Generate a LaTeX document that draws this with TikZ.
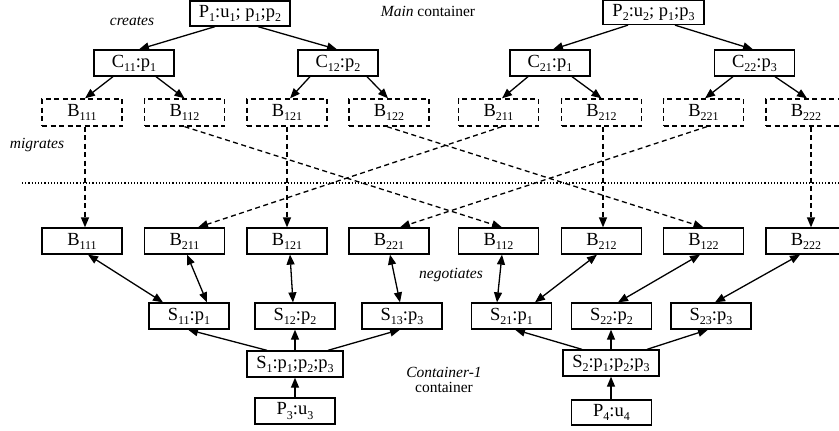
\documentclass[tikz,border=0pt]{standalone}
\usepackage{fontspec}
\setmainfont{Liberation Serif}
\usetikzlibrary{arrows.meta}
\newcommand\sbs[1]{\raisebox{-0.22em}{\fontsize{12}{12}\selectfont #1}}
\begin{document}
\begin{tikzpicture}[x=1pt,y=-1pt,
 box/.style={draw, line width=1.3pt, minimum width=80pt, minimum height=26pt, inner sep=0pt, font=\fontsize{18.5}{19}\selectfont},
 dbox/.style={box, dash pattern=on 5pt off 3.5pt},
 arr/.style={line width=1.3pt, -{Triangle[length=10pt,width=8pt]}},
 darr/.style={arr, dash pattern=on 5pt off 3.5pt},
 barr/.style={line width=1.3pt, {Triangle[length=10pt,width=8pt]}-{Triangle[length=10pt,width=8pt]}},
 lab/.style={font=\fontsize{15.5}{16}\selectfont\itshape, inner sep=0pt},
 plab/.style={font=\fontsize{15.5}{16}\selectfont, inner sep=0pt},
 sep/.style={line width=1.2pt, dash pattern=on 1.2pt off 2pt}]
\useasboundingbox (0,0) rectangle (839,431);
\clip (0,0) rectangle (839,431);

% top processes
\node[box, minimum width=100pt, minimum height=25pt] (P1) at (240,13.5) {P\sbs{1}:u\sbs{1}; p\sbs{1};p\sbs{2}};
\node[box, minimum width=101pt, minimum height=24pt] (P2) at (653.5,12.5) {P\sbs{2}:u\sbs{2}; p\sbs{1};p\sbs{3}};

% C row
\node[box] (C11) at (134,63) {C\sbs{11}:p\sbs{1}};
\node[box] (C12) at (338,63) {C\sbs{12}:p\sbs{2}};
\node[box] (C21) at (550,63) {C\sbs{21}:p\sbs{1}};
\node[box] (C22) at (754.5,63) {C\sbs{22}:p\sbs{3}};

% dashed B row
\node[dbox, minimum height=27pt] (uB111) at (82,112.5) {B\sbs{111}};
\node[dbox, minimum height=27pt] (uB112) at (184.5,112.5) {B\sbs{112}};
\node[dbox, minimum height=27pt] (uB121) at (287,112.5) {B\sbs{121}};
\node[dbox, minimum height=27pt] (uB122) at (389,112.5) {B\sbs{122}};
\node[dbox, minimum height=27pt] (uB211) at (498.5,112.5) {B\sbs{211}};
\node[dbox, minimum height=27pt] (uB212) at (601.5,112.5) {B\sbs{212}};
\node[dbox, minimum height=27pt] (uB221) at (703.5,112.5) {B\sbs{221}};
\node[dbox, minimum height=27pt] (uB222) at (806,112.5) {B\sbs{222}};

% separator
\coordinate (sepL) at (22,183);
\coordinate (sepR) at (845,183);
\draw[sep] (sepL) -- (sepR);

% lower B row
\node[box] (lB111) at (82,241) {B\sbs{111}};
\node[box] (lB211) at (184.5,241) {B\sbs{211}};
\node[box] (lB121) at (287,241) {B\sbs{121}};
\node[box] (lB221) at (389,241) {B\sbs{221}};
\node[box] (lB112) at (498.5,241) {B\sbs{112}};
\node[box] (lB212) at (601.5,241) {B\sbs{212}};
\node[box] (lB122) at (703.5,241) {B\sbs{122}};
\node[box] (lB222) at (806,241) {B\sbs{222}};

% S row
\node[box] (S11) at (189,316) {S\sbs{11}:p\sbs{1}};
\node[box] (S12) at (295,316) {S\sbs{12}:p\sbs{2}};
\node[box] (S13) at (402,316) {S\sbs{13}:p\sbs{3}};
\node[box] (S21) at (511.5,316) {S\sbs{21}:p\sbs{1}};
\node[box] (S22) at (611.5,316) {S\sbs{22}:p\sbs{2}};
\node[box] (S23) at (711,316) {S\sbs{23}:p\sbs{3}};

\node[box, minimum width=96pt] (S1) at (295,364) {S\sbs{1}:p\sbs{1};p\sbs{2};p\sbs{3}};
\node[box, minimum width=96pt] (S2) at (611,363) {S\sbs{2}:p\sbs{1};p\sbs{2};p\sbs{3}};

\node[box] (P3) at (295,411) {P\sbs{3}:u\sbs{3}};
\node[box, minimum height=25pt] (P4) at (611.5,412.5) {P\sbs{4}:u\sbs{4}};

% labels
\node[lab] (lcreates) at (132,21) {creates};
\node[plab] (lmain) at (428,11) {\textit{Main} container};
\node[lab] (lmigr) at (37,145) {migrates};
\node[lab] (lneg) at (451,275) {negotiates};
\node[lab] (lcont1) at (444,372) {Container-1};
\node[plab] (lcont2) at (444,387) {container};

% creates arrows
\draw[arr] ([xshift=-25pt]P1.south) -- ([xshift=5pt]C11.north);
\draw[arr] ([xshift=18pt]P1.south) -- ([xshift=-1pt]C12.north);
\draw[arr] ([xshift=-25.5pt]P2.south) -- ([xshift=3pt]C21.north);
\draw[arr] ([xshift=21.5pt]P2.south) -- ([xshift=-1.5pt]C22.north);

\draw[arr] ([xshift=-21pt]C11.south) -- ([xshift=3pt]uB111.north);
\draw[arr] ([xshift=22pt]C11.south) -- (uB112.north);
\draw[arr] ([xshift=-28pt]C12.south) -- ([xshift=3pt]uB121.north);
\draw[arr] ([xshift=29pt]C12.south) -- ([xshift=-1pt]uB122.north);
\draw[arr] ([xshift=-22pt]C21.south) -- ([xshift=3.5pt]uB211.north);
\draw[arr] ([xshift=22pt]C21.south) -- (uB212.north);
\draw[arr] ([xshift=-21.5pt]C22.south) -- ([xshift=1.5pt]uB221.north);
\draw[arr] ([xshift=20.5pt]C22.south) -- ([xshift=1pt]uB222.north);

% migrates
\draw[darr] ([xshift=3pt]uB111.south) -- ([xshift=3pt]lB111.north);
\draw[darr] (uB112.south) -- ([xshift=3.5pt]lB112.north);
\draw[darr] (uB121.south) -- (lB121.north);
\draw[darr] ([xshift=-2pt]uB122.south) -- (lB122.north);
\draw[darr] ([xshift=3.5pt]uB211.south) -- ([xshift=13.5pt]lB211.north);
\draw[darr] ([xshift=1.5pt]uB212.south) -- ([xshift=1.5pt]lB212.north);
\draw[darr] ([xshift=3.5pt]uB221.south) -- ([xshift=11pt]lB221.north);
\draw[darr] ([xshift=5pt]uB222.south) -- ([xshift=5pt]lB222.north);

% negotiates
\draw[barr] ([xshift=-26pt]S11.north) -- ([xshift=6pt]lB111.south);
\draw[barr] ([xshift=18pt]S11.north) -- ([xshift=2.5pt]lB211.south);
\draw[barr] ([xshift=-2pt]S12.north) -- ([xshift=3pt]lB121.south);
\draw[barr] ([xshift=-2pt]S13.north) -- ([xshift=1pt]lB221.south);
\draw[barr] ([xshift=-14.5pt]S21.north) -- ([xshift=3.5pt]lB112.south);
\draw[barr] ([xshift=23.5pt]S21.north) -- ([xshift=-4.5pt]lB212.south);
\draw[barr] ([xshift=6.5pt]S22.north) -- ([xshift=-3.5pt]lB122.south);
\draw[barr] ([xshift=4pt]S23.north) -- ([xshift=-6pt]lB222.south);

% S fan-out
\draw[arr] ([xshift=-28pt]S1.north) -- ([xshift=-1pt]S11.south);
\draw[arr] (S1.north) -- (S12.south);
\draw[arr] ([xshift=33pt]S1.north) -- ([xshift=-2pt]S13.south);
\draw[arr] ([xshift=-29pt]S2.north) -- ([xshift=3.5pt]S21.south);
\draw[arr] (S2.north) -- ([xshift=-0.5pt]S22.south);
\draw[arr] ([xshift=36pt]S2.north) -- ([xshift=-3pt]S23.south);

\draw[arr] (P3.north) -- (S1.south);
\draw[arr] ([xshift=-0.5pt]P4.north) -- (S2.south);
\end{tikzpicture}
\end{document}
